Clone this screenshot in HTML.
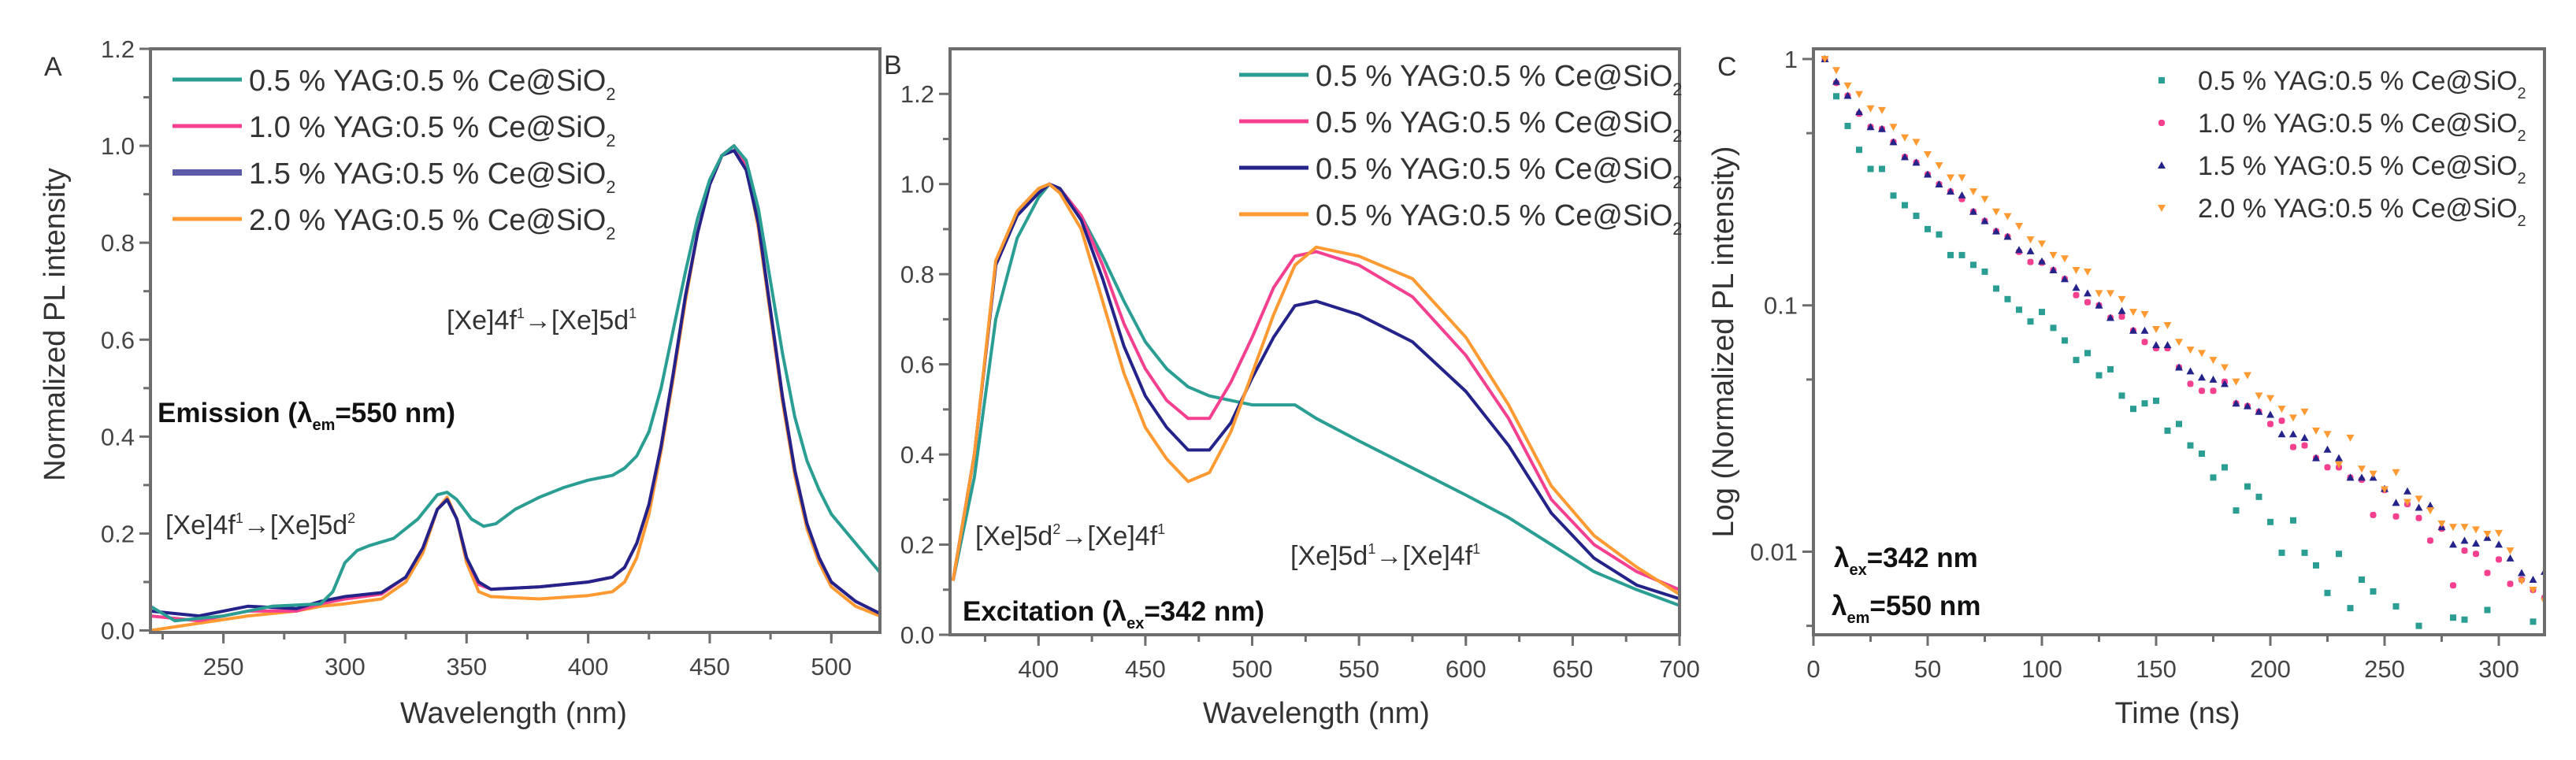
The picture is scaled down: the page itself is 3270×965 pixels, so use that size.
<!DOCTYPE html>
<html><head><meta charset="utf-8">
<style>
html,body{margin:0;padding:0;background:#fff;}
svg{display:block;font-family:"Liberation Sans",Arial,sans-serif;}
</style></head>
<body>
<svg id="fig" width="3270" height="965" viewBox="0 0 3270 965" xmlns="http://www.w3.org/2000/svg"></svg>
<script>
// ---------- Panel A data (emission) ----------
const aWaveTeal = [220,230,250,270,290,295,300,305,310,320,330,338,342,346,352,357,362,370,380,390,400,410,415,420,425,430,435,440,445,450,455,460,465,470,475,480,485,490,495,500,510,520];
const aTeal     = [0.05,0.02,0.03,0.05,0.055,0.08,0.14,0.165,0.175,0.19,0.23,0.28,0.285,0.27,0.23,0.215,0.22,0.25,0.275,0.295,0.31,0.32,0.335,0.36,0.41,0.5,0.62,0.74,0.85,0.93,0.98,1.0,0.97,0.87,0.72,0.57,0.44,0.35,0.29,0.24,0.18,0.12];
const aWave     = [220,240,260,280,290,300,315,325,332,338,342,346,350,355,360,380,400,410,415,420,425,430,435,440,445,450,455,460,465,470,475,480,485,490,495,500,510,520];
const aPink     = [0.03,0.02,0.04,0.04,0.055,0.065,0.075,0.11,0.17,0.25,0.27,0.23,0.15,0.095,0.085,0.09,0.1,0.11,0.13,0.18,0.26,0.38,0.53,0.69,0.82,0.92,0.98,1.0,0.96,0.84,0.66,0.48,0.33,0.22,0.15,0.1,0.06,0.035];
const aBlue     = [0.04,0.03,0.05,0.045,0.06,0.07,0.078,0.11,0.17,0.25,0.27,0.23,0.15,0.1,0.085,0.09,0.1,0.11,0.13,0.18,0.26,0.38,0.53,0.69,0.82,0.92,0.98,0.99,0.95,0.84,0.66,0.48,0.33,0.22,0.15,0.1,0.06,0.035];
const aOrange   = [0.0,0.015,0.03,0.04,0.05,0.055,0.065,0.1,0.16,0.25,0.275,0.23,0.14,0.08,0.07,0.065,0.072,0.08,0.1,0.15,0.24,0.37,0.52,0.68,0.82,0.92,0.98,1.0,0.96,0.83,0.65,0.47,0.32,0.21,0.14,0.09,0.05,0.03];
const aXTicks = [250,300,350,400,450,500];
const aYTicks = [0.0,0.2,0.4,0.6,0.8,1.0,1.2];

// ---------- Panel B data (excitation) ----------
const bWave   = [360,370,380,390,400,405,410,420,430,440,450,460,470,480,490,500,510,520,530,550,575,600,620,640,660,680,700];
const bTeal   = [0.12,0.35,0.7,0.88,0.97,1.0,0.99,0.93,0.84,0.74,0.65,0.59,0.55,0.53,0.52,0.51,0.51,0.51,0.48,0.43,0.37,0.31,0.26,0.2,0.14,0.1,0.065];
const bPink   = [0.12,0.4,0.82,0.93,0.98,1.0,0.99,0.93,0.82,0.69,0.59,0.52,0.48,0.48,0.56,0.66,0.77,0.84,0.85,0.82,0.75,0.62,0.48,0.3,0.2,0.14,0.1];
const bBlue   = [0.12,0.4,0.82,0.93,0.98,1.0,0.99,0.92,0.79,0.64,0.53,0.46,0.41,0.41,0.47,0.57,0.66,0.73,0.74,0.71,0.65,0.54,0.42,0.27,0.17,0.11,0.08];
const bOrange = [0.12,0.4,0.83,0.94,0.99,1.0,0.98,0.9,0.74,0.58,0.46,0.39,0.34,0.36,0.45,0.58,0.71,0.82,0.86,0.84,0.79,0.66,0.51,0.33,0.22,0.15,0.09];
const bXTicks = [400,450,500,550,600,650,700];
const bYTicks = [0.0,0.2,0.4,0.6,0.8,1.0,1.2];

// ---------- Panel C data (decay) ----------
const cTime = [5,10,15,20,25,30,35,40,45,50,55,60,65,70,75,80,85,90,95,100,105,110,115,120,125,130,135,140,145,150,155,160,165,170,175,180,185,190,195,200,205,210,215,220,225,230,235,240,245,250,255,260,265,270,275,280,285,290,295,300,305,310,315,320];
const cTeal   = [1,0.706,0.535,0.428,0.358,0.358,0.279,0.255,0.231,0.204,0.194,0.16,0.16,0.146,0.137,0.117,0.106,0.096,0.086,0.094,0.081,0.072,0.06,0.064,0.052,0.055,0.043,0.038,0.04,0.041,0.031,0.033,0.027,0.025,0.02,0.022,0.0147,0.0184,0.0167,0.0132,0.0099,0.0134,0.0099,0.0088,0.0068,0.0098,0.0059,0.0077,0.0069,0.0045,0.006,0.0045,0.005,0.0045,0.0045,0.0054,0.0053,0.0045,0.0058,0.0045,0.0045,0.0045,0.0052,0.0045];
const cPink   = [1,0.8,0.71,0.6,0.53,0.52,0.46,0.4,0.38,0.34,0.31,0.29,0.27,0.24,0.22,0.2,0.19,0.165,0.15,0.149,0.139,0.128,0.11,0.103,0.1,0.089,0.09,0.079,0.071,0.067,0.067,0.056,0.048,0.045,0.045,0.049,0.04,0.039,0.037,0.033,0.034,0.0266,0.027,0.024,0.022,0.022,0.02,0.0196,0.0141,0.0178,0.0139,0.0156,0.0137,0.0111,0.0124,0.0073,0.0101,0.0098,0.0082,0.0093,0.0074,0.0077,0.007,0.0065];
const cBlue   = [1,0.81,0.71,0.61,0.53,0.52,0.46,0.4,0.38,0.34,0.31,0.29,0.28,0.24,0.22,0.2,0.19,0.168,0.166,0.151,0.139,0.128,0.118,0.112,0.1,0.089,0.095,0.079,0.079,0.069,0.069,0.056,0.054,0.051,0.05,0.048,0.04,0.039,0.037,0.036,0.03,0.03,0.029,0.024,0.026,0.024,0.02,0.02,0.02,0.018,0.0158,0.0176,0.0151,0.0154,0.0126,0.0107,0.0111,0.0108,0.0114,0.0107,0.0094,0.0082,0.0077,0.0083];
const cOrange = [1,0.9,0.78,0.72,0.63,0.62,0.53,0.48,0.46,0.41,0.37,0.33,0.33,0.29,0.27,0.24,0.23,0.21,0.185,0.178,0.16,0.155,0.139,0.137,0.112,0.112,0.106,0.094,0.092,0.08,0.083,0.071,0.066,0.064,0.06,0.056,0.049,0.052,0.043,0.042,0.038,0.035,0.037,0.031,0.03,0.0226,0.029,0.0217,0.0207,0.0179,0.021,0.0159,0.0164,0.0147,0.013,0.0126,0.0126,0.0123,0.0118,0.0119,0.0101,0.0076,0.007,0.0063];
const cXTicks = [0,50,100,150,200,250,300];
const cYTicks = [1,0.1,0.01];
const cYTickLabels = ["1","0.1","0.01"];

const legendLabelsA = ["0.5 % YAG:0.5 % Ce@SiO","1.0 % YAG:0.5 % Ce@SiO","1.5 % YAG:0.5 % Ce@SiO","2.0 % YAG:0.5 % Ce@SiO"];
const legendLabelsB = ["0.5 % YAG:0.5 % Ce@SiO","0.5 % YAG:0.5 % Ce@SiO","0.5 % YAG:0.5 % Ce@SiO","0.5 % YAG:0.5 % Ce@SiO"];

const COL = {teal:"#2b9e93", pink:"#f5408f", blue:"#24238a", blueLeg:"#5a5aa8", orange:"#ff9a33"};
const NS = "http://www.w3.org/2000/svg";
const svg = document.getElementById('fig');
function el(tag, attrs, parent){ const e=document.createElementNS(NS,tag); for(const k in attrs) e.setAttribute(k,attrs[k]); (parent||svg).appendChild(e); return e; }
function txt(s, attrs, parent){ const t=el('text',attrs,parent); t.textContent=s; return t; }

const A = {L:191,R:1117,T:62,B:803, x0:220,x1:520, y0:-0.004,y1:1.2};
const Bp= {L:1206,R:2132,T:62,B:806, x0:358.6,x1:700, y0:0,y1:1.3};
const Cp= {L:2302,R:3230,T:62,B:806, x0:0,x1:320, ly0:Math.log10(0.0046),ly1:Math.log10(1.1)};
const ax = v=>A.L+(v-A.x0)/(A.x1-A.x0)*(A.R-A.L);
const ay = v=>A.B-(v-A.y0)/(A.y1-A.y0)*(A.B-A.T);
const bx = v=>Bp.L+(v-Bp.x0)/(Bp.x1-Bp.x0)*(Bp.R-Bp.L);
const by = v=>Bp.B-(v-Bp.y0)/(Bp.y1-Bp.y0)*(Bp.B-Bp.T);
const cx = v=>Cp.L+(v-Cp.x0)/(Cp.x1-Cp.x0)*(Cp.R-Cp.L);
const cy = v=>Cp.B-(Math.log10(v)-Cp.ly0)/(Cp.ly1-Cp.ly0)*(Cp.B-Cp.T);

function frame(P,name){
  const g=el('g',{});
  
  
  el('rect',{x:P.L,y:P.T,width:P.R-P.L,height:P.B-P.T,fill:'none',stroke:'#6e6e6e','stroke-width':4},g);
  return g;
}
function xTicks(P,ticks,fx,minorStep,name,labels){
  const g=el('g',{});
  
  
  for(let v=Math.ceil(P.x0/minorStep)*minorStep; v<=P.x1+1e-6; v+=minorStep){
    const X=fx(v); if(X<P.L-1||X>P.R+1) continue;
    el('line',{x1:X,x2:X,y1:P.B,y2:P.B+9,stroke:'#6e6e6e','stroke-width':3},g);
  }
  ticks.forEach((v,i)=>{
    const X=fx(v);
    el('line',{x1:X,x2:X,y1:P.B,y2:P.B+14,stroke:'#6e6e6e','stroke-width':3},g);
    const t=txt(labels?labels[i]:String(v),{x:X,y:P.B+54,'font-size':31,fill:'#444','text-anchor':'middle'},g);
    
    
  });
}
function yTicks(P,ticks,fy,minorVals,name,labels){
  const g=el('g',{});
  
  
  minorVals.forEach(v=>{const Y=fy(v); if(Y<P.T-1||Y>P.B+1) return; el('line',{x1:P.L-9,x2:P.L,y1:Y,y2:Y,stroke:'#6e6e6e','stroke-width':3},g);});
  ticks.forEach((v,i)=>{
    const Y=fy(v);
    el('line',{x1:P.L-14,x2:P.L,y1:Y,y2:Y,stroke:'#6e6e6e','stroke-width':3},g);
    const t=txt(labels?labels[i]:v.toFixed(1),{x:P.L-20,y:Y+11,'font-size':31,fill:'#444','text-anchor':'end'},g);
    
    
  });
}
function line(xs,ys,fx,fy,color,w,name,clip){
  const d=xs.map((v,i)=>(i?'L':'M')+fx(v).toFixed(1)+','+fy(ys[i]).toFixed(1)).join('');
  const p=el('path',{d:d,fill:'none',stroke:color,'stroke-width':w,'stroke-linejoin':'round','clip-path':'url(#'+clip+')'});
  
  
}
function legendLine(x,y,color,w,label,name){
  const g=el('g',{});
  
  
  el('line',{x1:x,x2:x+88,y1:y,y2:y,stroke:color,'stroke-width':w},g);
  const t=txt(label,{x:x+97,y:y+14,'font-size':38,fill:'#333'},g);
  const s=el('tspan',{'font-size':22,dy:12},t); s.textContent='2';
}
function marker(type,X,Y,color,g){
  if(type==='sq') el('rect',{x:X-4,y:Y-4,width:8,height:8,fill:color},g);
  else if(type==='ci') el('rect',{x:X-4,y:Y-4,width:8,height:8,rx:3,fill:color},g);
  else if(type==='up') el('polygon',{points:`${X},${Y-5} ${X+5},${Y+4} ${X-5},${Y+4}`,fill:color},g);
  else el('polygon',{points:`${X-5},${Y-4} ${X+5},${Y-4} ${X},${Y+5}`,fill:color},g);
}

const defs=el('defs',{});
[['clipA',A],['clipB',Bp],['clipC',Cp]].forEach(([id,P])=>{const c=el('clipPath',{id:id},defs); el('rect',{x:P.L,y:P.T,width:P.R-P.L,height:P.B-P.T},c);});

// ---------- Panel A ----------
line(aWave,aOrange,ax,ay,COL.orange,4,'a-series-2-0','clipA');
line(aWave,aPink,ax,ay,COL.pink,4,'a-series-1-0','clipA');
line(aWave,aBlue,ax,ay,COL.blue,4,'a-series-1-5','clipA');
line(aWaveTeal,aTeal,ax,ay,COL.teal,4,'a-series-0-5','clipA');
frame(A,'panel-a');
xTicks(A,aXTicks,ax,25,'panel-a');
yTicks(A,aYTicks,ay,[0.1,0.3,0.5,0.7,0.9,1.1],'panel-a');
[COL.teal,COL.pink,COL.blueLeg,COL.orange].forEach((c,i)=>legendLine(219,101+i*59,c,i===2?8:5,legendLabelsA[i],'legend-a-entry-'+(i+1)));
let t;
t=txt('A',{x:56,y:96,'font-size':34,fill:'#333'});  
t=txt('Normalized PL intensity',{x:0,y:0,'font-size':38,fill:'#333','text-anchor':'middle',transform:'translate(82,412) rotate(-90)'});  
t=txt('Wavelength (nm)',{x:652,y:918,'font-size':38,fill:'#333','text-anchor':'middle'});  
t=txt('',{x:567,y:418,'font-size':34,fill:'#333'});  
t.innerHTML='[Xe]4f<tspan font-size="18" dy="-14">1</tspan><tspan dy="14">→[Xe]5d</tspan><tspan font-size="18" dy="-14">1</tspan>';
t=txt('',{x:210,y:678,'font-size':34,fill:'#333'});  
t.innerHTML='[Xe]4f<tspan font-size="18" dy="-14">1</tspan><tspan dy="14">→[Xe]5d</tspan><tspan font-size="18" dy="-14">2</tspan>';
t=txt('',{x:200,y:536,'font-size':35,fill:'#111','font-weight':'bold'});  
t.innerHTML='Emission (λ<tspan font-size="20" dy="10">em</tspan><tspan dy="-10">=550 nm)</tspan>';

// ---------- Panel B ----------
line(bWave,bTeal,bx,by,COL.teal,4,'b-series-teal','clipB');
line(bWave,bPink,bx,by,COL.pink,4,'b-series-pink','clipB');
line(bWave,bBlue,bx,by,COL.blue,4,'b-series-blue','clipB');
line(bWave,bOrange,bx,by,COL.orange,4,'b-series-orange','clipB');
frame(Bp,'panel-b');
xTicks(Bp,bXTicks,bx,25,'panel-b');
yTicks(Bp,bYTicks,by,[0.1,0.3,0.5,0.7,0.9,1.1],'panel-b');
[COL.teal,COL.pink,COL.blue,COL.orange].forEach((c,i)=>legendLine(1573,95+i*59,c,5,legendLabelsB[i],'legend-b-entry-'+(i+1)));
t=txt('B',{x:1122,y:94,'font-size':34,fill:'#333'});  
t=txt('Wavelength (nm)',{x:1671,y:918,'font-size':38,fill:'#333','text-anchor':'middle'});  
t=txt('',{x:1238,y:692,'font-size':34,fill:'#333'});  
t.innerHTML='[Xe]5d<tspan font-size="18" dy="-14">2</tspan><tspan dy="14">→[Xe]4f</tspan><tspan font-size="18" dy="-14">1</tspan>';
t=txt('',{x:1638,y:717,'font-size':34,fill:'#333'});  
t.innerHTML='[Xe]5d<tspan font-size="18" dy="-14">1</tspan><tspan dy="14">→[Xe]4f</tspan><tspan font-size="18" dy="-14">1</tspan>';
t=txt('',{x:1222,y:788,'font-size':35,fill:'#111','font-weight':'bold'});  
t.innerHTML='Excitation (λ<tspan font-size="20" dy="10">ex</tspan><tspan dy="-10">=342 nm)</tspan>';

// ---------- Panel C ----------
const cSeries=[[cTeal,COL.teal,'sq','c-series-0-5'],[cPink,COL.pink,'ci','c-series-1-0'],[cBlue,COL.blue,'up','c-series-1-5'],[cOrange,COL.orange,'dn','c-series-2-0']];
cSeries.forEach(([vals,col,type,name])=>{
  const g=el('g',{'clip-path':'url(#clipC)'});
  
  
  vals.forEach((v,i)=>marker(type,cx(cTime[i]),cy(v),col,g));
});
frame(Cp,'panel-c');
xTicks(Cp,cXTicks,cx,25,'panel-c');
const cMinor=[0.5,0.05,0.005];
yTicks(Cp,cYTicks,cy,cMinor,'panel-c',cYTickLabels);
cSeries.forEach(([vals,col,type],i)=>{
  const g=el('g',{});
  
  
  const Y=102+i*54;
  marker(type,2744,Y,col,g);
  const tt=txt(legendLabelsA[i],{x:2790,y:Y+12,'font-size':34,fill:'#333'},g);
  const s=el('tspan',{'font-size':20,dy:11},tt); s.textContent='2';
});
t=txt('C',{x:2180,y:96,'font-size':34,fill:'#333'});  
t=txt('Log (Normalized PL intensity)',{x:0,y:0,'font-size':38,fill:'#333','text-anchor':'middle',transform:'translate(2200,434) rotate(-90)'});  
t=txt('Time (ns)',{x:2764,y:918,'font-size':38,fill:'#333','text-anchor':'middle'});  
t=txt('',{x:2328,y:720,'font-size':35,fill:'#111','font-weight':'bold'});  
t.innerHTML='λ<tspan font-size="20" dy="10">ex</tspan><tspan dy="-10">=342 nm</tspan>';
t=txt('',{x:2325,y:781,'font-size':35,fill:'#111','font-weight':'bold'});  
t.innerHTML='λ<tspan font-size="20" dy="10">em</tspan><tspan dy="-10">=550 nm</tspan>';
</script>
</body></html>
